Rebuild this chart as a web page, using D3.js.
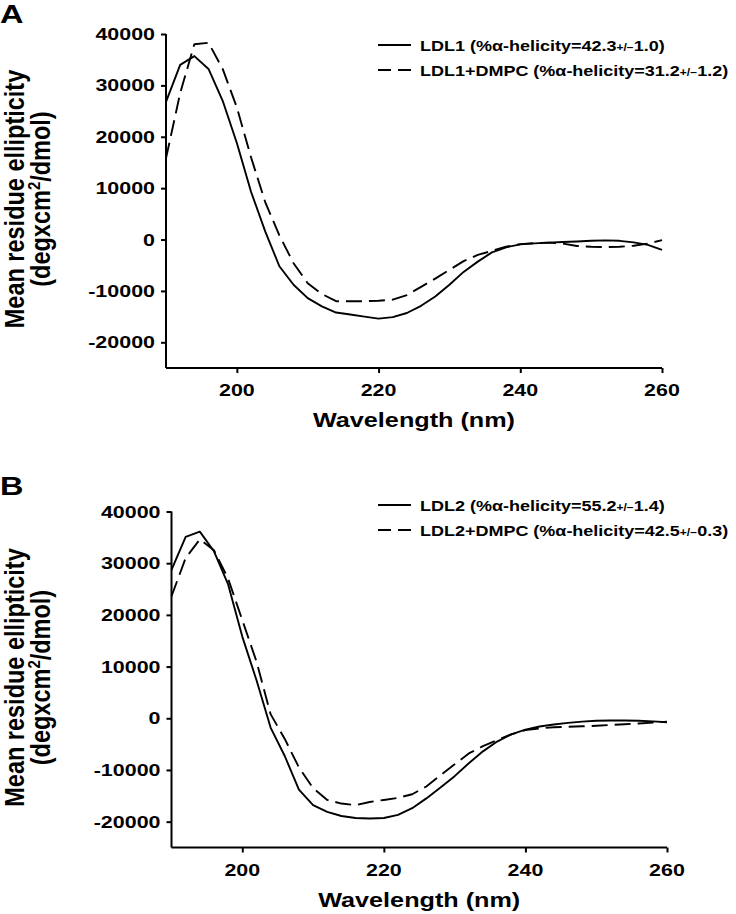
<!DOCTYPE html>
<html>
<head>
<meta charset="utf-8">
<script src="https://cdn.jsdelivr.net/npm/d3@7"></script>
<style>
  html, body { margin: 0; padding: 0; background: #fff; }
  svg { display: block; }
  text { font-family: "Liberation Sans", Arial, Helvetica, sans-serif; font-weight: bold; fill: #000; }
</style>
</head>
<body>
<svg id="chart" width="736" height="914"></svg>
<script>
// ---------------- DATA ----------------
const wavelengths = [190,192,194,196,198,200,202,204,206,208,210,212,214,216,218,220,222,224,226,228,230,232,234,236,238,240,242,244,246,248,250,252,254,256,258,260];

const ldl1 = [26800,34000,35700,33200,27000,18800,9300,1600,-5200,-8800,-11400,-13000,-14200,-14600,-15000,-15400,-15100,-14300,-12900,-11100,-8800,-6300,-4300,-2500,-1500,-950,-750,-600,-480,-380,-250,-170,-250,-560,-1050,-2000];
const ldl1Dmpc = [15800,28500,38000,38300,33200,25700,16000,7300,800,-4600,-8500,-10600,-12000,-12000,-12000,-11900,-11700,-10800,-9200,-7600,-5900,-4200,-3000,-2200,-1400,-900,-700,-600,-800,-1250,-1400,-1450,-1400,-1200,-800,-100];

const ldl2 = [28700,35100,36100,32300,25900,15800,7400,-1800,-7300,-13800,-16800,-18100,-18900,-19300,-19400,-19300,-18700,-17400,-15500,-13400,-11200,-8700,-6400,-4500,-3100,-2200,-1600,-1200,-900,-650,-480,-420,-430,-470,-600,-780];
const ldl2Dmpc = [23600,31000,34600,32500,27000,19000,11000,800,-4000,-9500,-13500,-15800,-16500,-16800,-16200,-15800,-15400,-14700,-13200,-11000,-8900,-6800,-5400,-4200,-3100,-2300,-1950,-1750,-1650,-1550,-1450,-1300,-1150,-1000,-850,-660];

const xTicks = [200, 220, 240, 260];
const yTicks = [-20000, -10000, 0, 10000, 20000, 30000, 40000];
const xDomain = [190, 260];
const yDomain = [-25000, 40000];

const panelLetters = ["A", "B"];
const seriesNamesA = ["LDL1", "LDL1+DMPC"];
const seriesNamesB = ["LDL2", "LDL2+DMPC"];
const helicityA = ["42.3", "1.0", "31.2", "1.2"];
const helicityB = ["55.2", "1.4", "42.5", "0.3"];

const xTitle = "Wavelength (nm)";
const yTitle1 = "Mean residue ellipticity";

// ---------------- LAYOUT ----------------
const svg = d3.select("#chart");
const SX = 1.3; // horizontal glyph stretch seen in the reference

const panels = [
  { letter: panelLetters[0], x0: 166, x1: 662, yTop: 34, yBot: 368, legendY: 45, letterY: 23,
    series: [ { name: seriesNamesA[0], vals: ldl1, dash: null, h: helicityA[0], e: helicityA[1] },
              { name: seriesNamesA[1], vals: ldl1Dmpc, dash: "16,7", h: helicityA[2], e: helicityA[3] } ] },
  { letter: panelLetters[1], x0: 171.5, x1: 667, yTop: 511.5, yBot: 847.5, legendY: 505, letterY: 495,
    series: [ { name: seriesNamesB[0], vals: ldl2, dash: null, h: helicityB[0], e: helicityB[1] },
              { name: seriesNamesB[1], vals: ldl2Dmpc, dash: "16,7", h: helicityB[2], e: helicityB[3] } ] }
];

function stretchedText(parent, x, y, size, anchor, content) {
  const g = parent.append("g").attr("transform", `translate(${x},${y}) scale(${SX},1)`);
  const t = g.append("text").attr("font-size", size).attr("text-anchor", anchor);
  if (typeof content === "string") t.text(content); else content(t);
  return t;
}

panels.forEach(p => {
  const x = d3.scaleLinear().domain(xDomain).range([p.x0, p.x1]);
  const y = d3.scaleLinear().domain(yDomain).range([p.yBot, p.yTop]);
  const g = svg.append("g");

  // panel letter
  stretchedText(g, 0, p.letterY, 25, "start", p.letter);

  // y axis
  const yAxis = g.append("g").attr("transform", `translate(${p.x0},0)`)
    .call(d3.axisLeft(y).tickValues(yTicks).tickSize(5).tickPadding(0).tickFormat(d3.format("d")));
  yAxis.select(".domain").attr("stroke-width", 2).attr("d", `M0,${p.yTop}V${p.yBot}`);
  yAxis.selectAll(".tick line").attr("stroke-width", 2);
  yAxis.selectAll(".tick text").remove();
  yTicks.forEach(v => {
    stretchedText(g, p.x0 - 11, y(v) + 6, 16.5, "end", String(v));
  });

  // x axis
  const xAxis = g.append("g").attr("transform", `translate(0,${p.yBot})`)
    .call(d3.axisBottom(x).tickValues(xTicks).tickSize(5).tickFormat(d3.format("d")));
  xAxis.select(".domain").attr("stroke-width", 2).attr("d", `M${p.x0},0H${p.x1}`);
  xAxis.selectAll(".tick line").attr("stroke-width", 2);
  xAxis.selectAll(".tick text").remove();
  xTicks.forEach(v => {
    stretchedText(g, x(v), p.yBot + 28, 16.5, "middle", String(v));
  });

  // axis titles
  const xtg = g.append("g").attr("transform", `translate(${(p.x0 + p.x1) / 2},${p.yBot + 59}) scale(1.2,1)`);
  xtg.append("text").attr("font-size", 21).attr("text-anchor", "middle").text(xTitle);

  const cy = (p.yTop + p.yBot) / 2 - 2;
  const tg1 = g.append("g").attr("transform", `translate(${24},${cy}) rotate(-90) scale(1,1.15)`);
  tg1.append("text").attr("font-size", 23.5).attr("text-anchor", "middle").text(yTitle1);
  const tg2 = g.append("g").attr("transform", `translate(${50},${cy}) rotate(-90) scale(1,1.15)`);
  const t2 = tg2.append("text").attr("font-size", 23.5).attr("text-anchor", "middle");
  t2.append("tspan").text("(degxcm");
  t2.append("tspan").attr("font-size", 15).attr("dy", -9).text("2");
  t2.append("tspan").attr("dy", 9).text("/dmol)");

  // lines
  const line = d3.line().x((d, i) => x(wavelengths[i])).y(d => y(d));
  p.series.forEach(s => {
    g.append("path").datum(s.vals).attr("d", line)
      .attr("fill", "none").attr("stroke", "#000").attr("stroke-width", 1.9)
      .attr("stroke-linejoin", "round")
      .attr("stroke-dasharray", s.dash);
  });

  // legend
  p.series.forEach((s, i) => {
    const ly = p.legendY + i * 25;
    g.append("line").attr("x1", 378).attr("x2", 411).attr("y1", ly).attr("y2", ly)
      .attr("stroke", "#000").attr("stroke-width", 1.9)
      .attr("stroke-dasharray", s.dash ? "13,7" : null);
    const lg = g.append("g").attr("transform", `translate(420,${ly + 6}) scale(1.2,1)`);
    const t = lg.append("text").attr("font-size", 15);
    t.append("tspan").text(`${s.name} (%α-helicity=${s.h}`);
    t.append("tspan").attr("font-size", 10).text("+/−");
    t.append("tspan").text(`${s.e})`);
  });
});
</script>
</body>
</html>
